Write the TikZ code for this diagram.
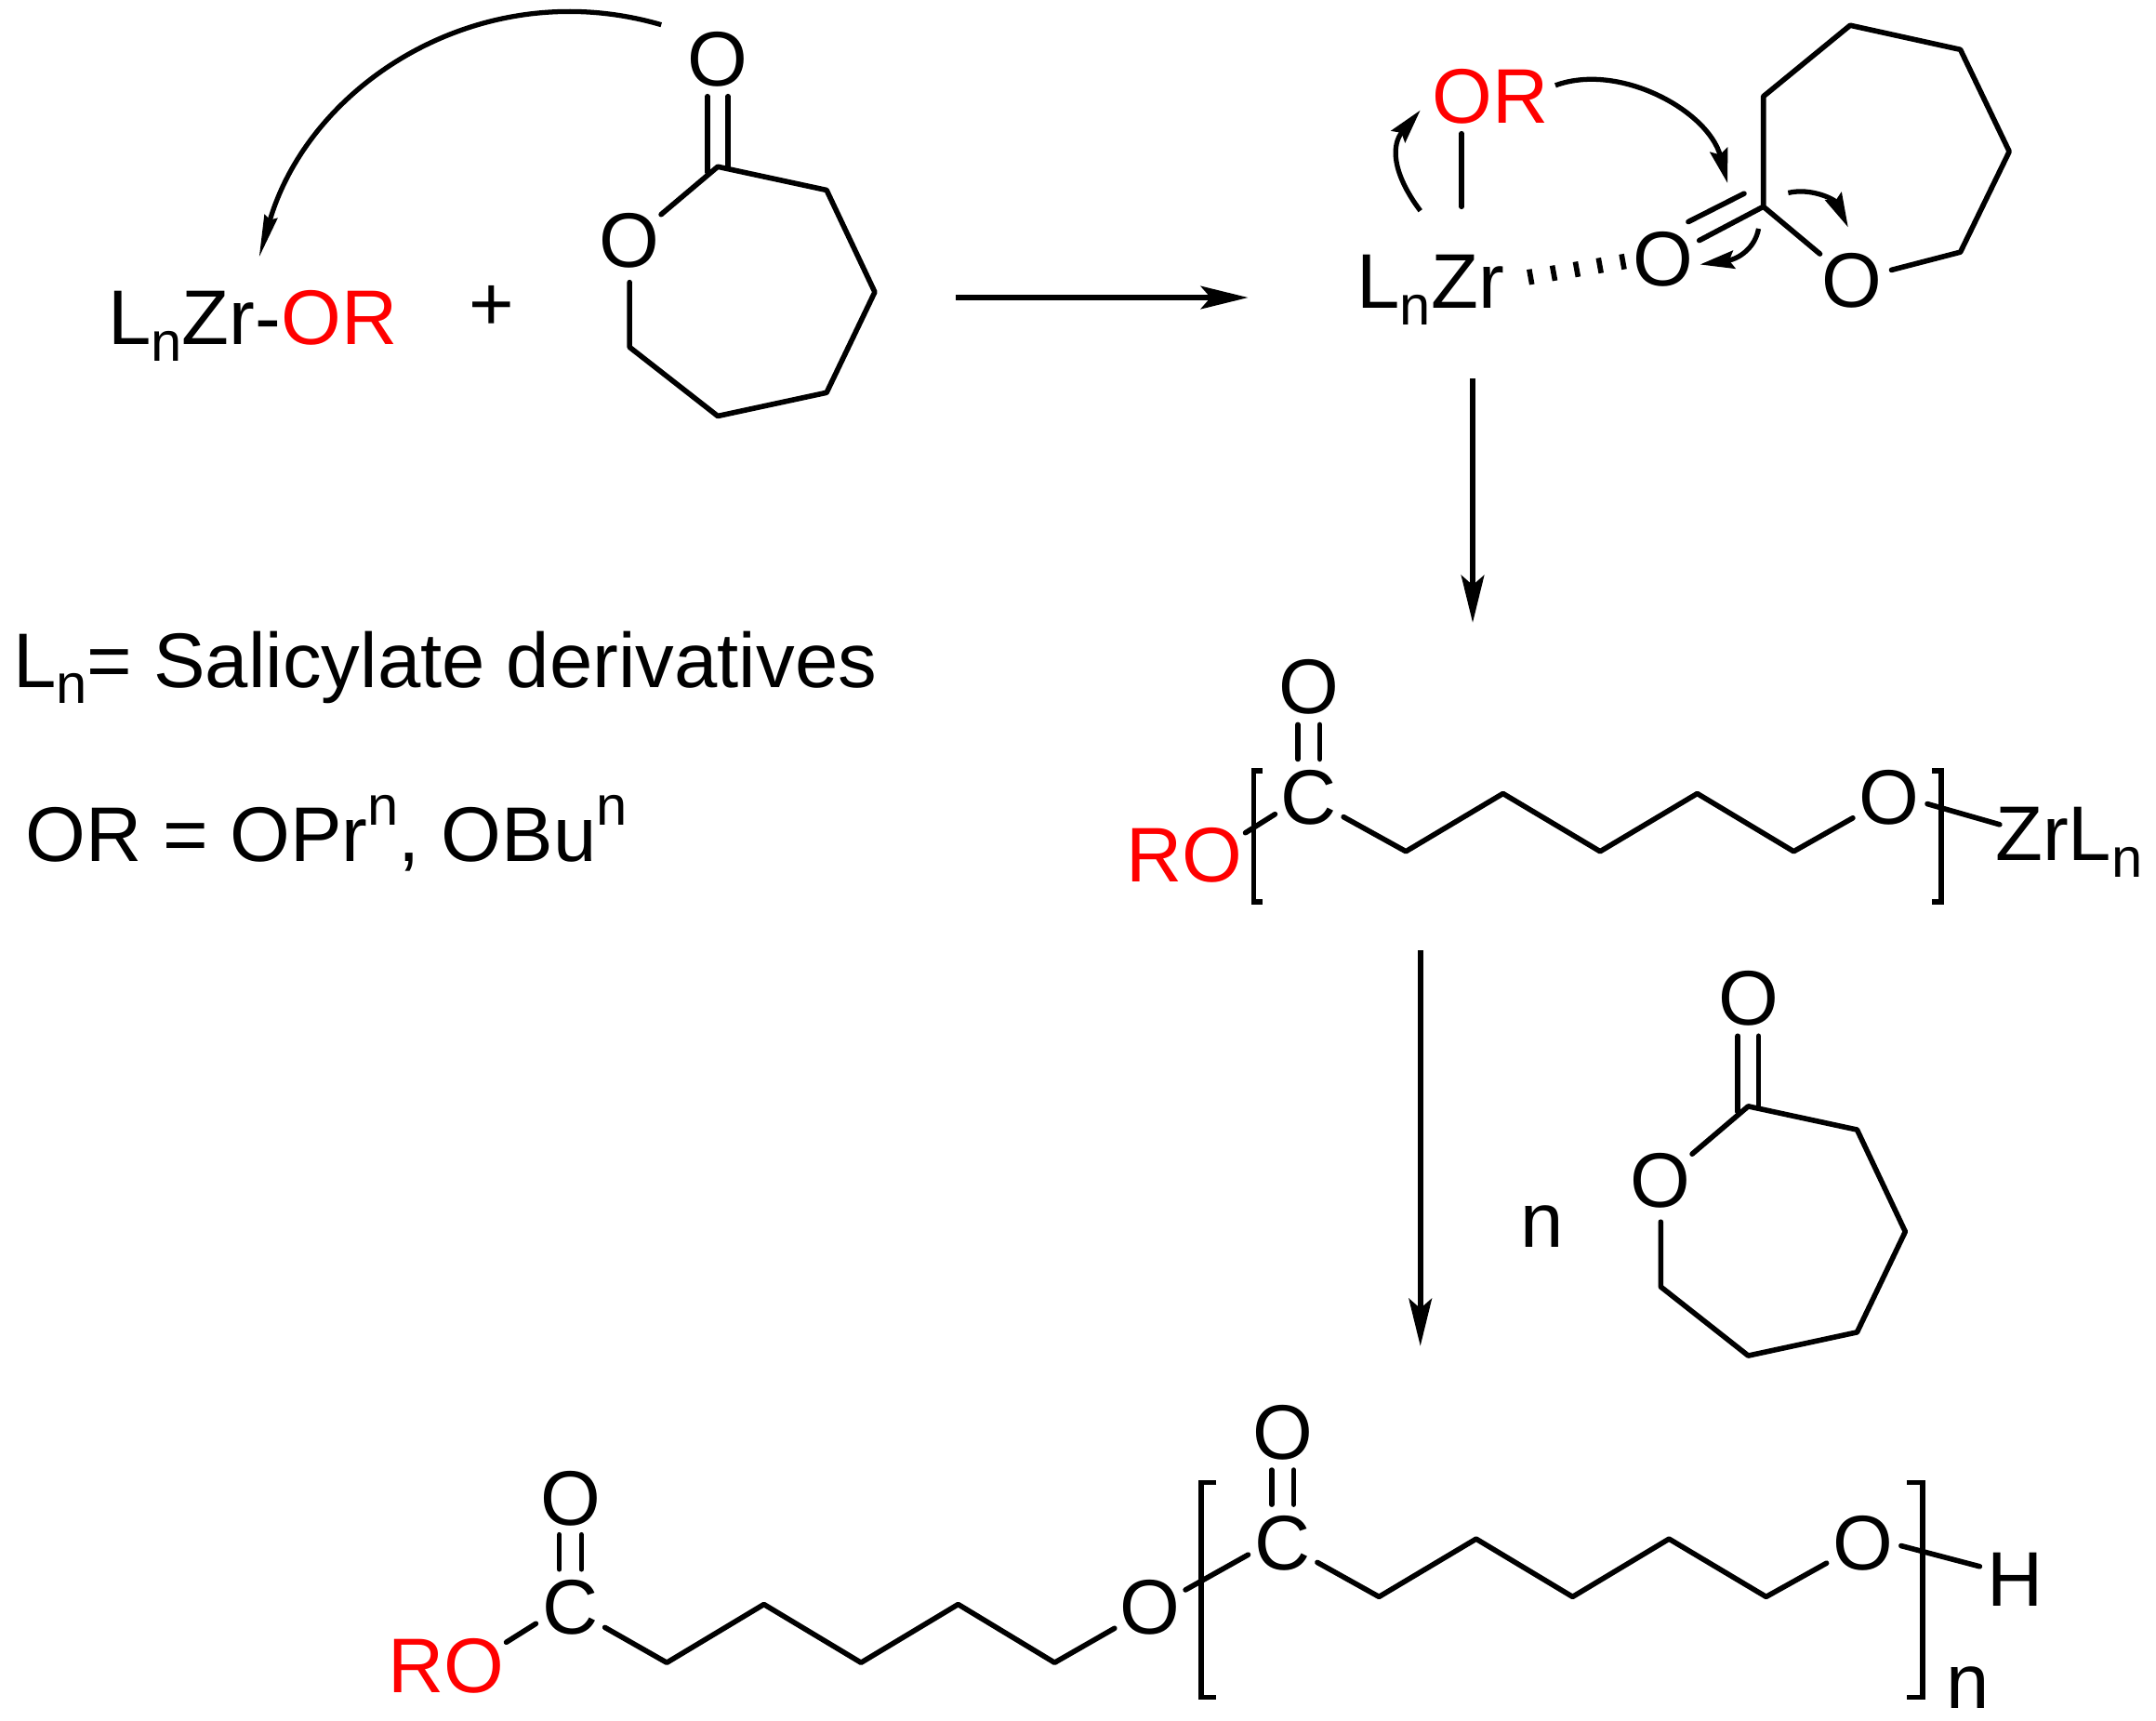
\documentclass[tikz,border=0pt]{standalone}
\usepackage{fontspec}
\setmainfont{Liberation Sans}
\usepackage{xcolor}
\usetikzlibrary{calc,arrows.meta}
\definecolor{orred}{HTML}{FF0000}
\newcommand{\atomfont}{\fontsize{23.7}{27}\selectfont}
\newcommand{\subn}{\raisebox{-5pt}{\fontsize{17}{18}\selectfont n}}
\newcommand{\supn}{\raisebox{11pt}{\fontsize{17}{18}\selectfont n}}
\tikzset{
  bond/.style={draw=black, line width=1.6pt, line cap=round, line join=round},
  brk/.style={draw=black, line width=1.6pt, line join=miter},
  hash/.style={draw=black, line width=1.6pt},
  rxn/.style={draw=black, line width=1.6pt, -{Stealth[length=14.5pt,width=7pt,inset=3pt]}},
  curl/.style={draw=black, line width=1.5pt, -{Stealth[length=10.5pt,width=5.5pt,inset=1.5pt]}},
  longcurl/.style={draw=black, line width=1.5pt, -{Stealth[length=13pt,width=4pt,inset=1pt]}},
  atom/.style={circle, inner sep=0pt, font=\atomfont},
  atomr/.style={atom, text=orred},
  lab/.style={anchor=base west, inner sep=0pt, font=\atomfont},
  labr/.style={lab, text=orred}
}
\begin{document}
\begin{tikzpicture}[x=0.014818cm,y=-0.014818cm]
  \useasboundingbox (0,0) rectangle (1565,1249);

  % first reactants
  \node[lab] (zrone) at (78,250) {L\subn Zr-\textcolor{orred}{OR}};
  \node[lab] (plus) at (340,240) {+};
  \node[atom] (Oa) at (521,43) {O};
  \node[atom] (Ob) at (457,175) {O};
  \coordinate (a1) at (521,121);
  \coordinate (a2) at (600,138);
  \coordinate (a3) at (635,212);
  \coordinate (a4) at (600,285);
  \coordinate (a5) at (521,302);
  \coordinate (a6) at (457,252);
  \draw[bond] (Ob) -- (a1) -- (a2) -- (a3) -- (a4) -- (a5) -- (a6) -- (Ob);
  \draw[bond] ($(a1)+(-7.5,4)$) -- ($(a1)+(-7.5,-51)$);
  \draw[bond] ($(a1)+(7.5,0)$) -- ($(a1)+(7.5,-51)$);
  \coordinate (ca1) at (480,18);
  \coordinate (ca2) at (188,187);
  \draw[longcurl] (ca1) .. controls (350,-20) and (225,60) .. (ca2);
  \coordinate (ra1) at (694,216);
  \coordinate (ra2) at (906,216);
  \draw[rxn] (ra1) -- (ra2);

  % coordinated lactone
  \node[labr] (ORm) at (1039,89.5) {OR};
  \node[lab] (zrtwo) at (984.5,224) {L\subn Zr};
  \coordinate (zb1) at (1061,97);
  \coordinate (zb2) at (1061,150);
  \draw[bond] (zb1) -- (zb2);
  \node[atom] (Oc) at (1207,188.5) {O};
  \node[atom] (Od) at (1344,203.5) {O};
  \coordinate (c1) at (1280,150);
  \coordinate (c2) at (1280,70);
  \coordinate (c3) at (1343,18.4);
  \coordinate (c4) at (1423,36);
  \coordinate (c5) at (1458.5,110);
  \coordinate (c6) at (1423,183);
  \draw[bond] (Od) -- (c1) -- (c2) -- (c3) -- (c4) -- (c5) -- (c6) -- (Od);
  \draw[bond] (c1) -- (Oc);
  \draw[bond] ($(c1)+(-14,-9.5)$) -- ($(c1)+(-54.5,11)$);
  \coordinate (hs) at (1111,201);
  \coordinate (he) at (1178,190);
  \foreach \t in {0,0.25,0.5,0.75,1}
    \draw[hash] ($(hs)!\t!(he)+(-1,-5.5)$) -- ($(hs)!\t!(he)+(1,5.5)$);
  \coordinate (cb1) at (1031,153);
  \coordinate (cb2) at (1031,80);
  \draw[curl] (cb1) .. controls (1010,125) and (1010,105) .. (cb2);
  \coordinate (cc1) at (1129,62);
  \coordinate (cc2) at (1254,133);
  \draw[curl] (cc1) .. controls (1175,45) and (1240,80) .. (cc2);
  \coordinate (cd1) at (1276.5,166);
  \coordinate (cd2) at (1234,192);
  \draw[curl] (cd1) .. controls (1274,180) and (1262,188) .. (cd2);
  \coordinate (ce1) at (1298,140);
  \coordinate (ce2) at (1341.5,165);
  \draw[curl] (ce1) .. controls (1315,136) and (1332,145) .. (ce2);
  \coordinate (rb1) at (1069,275);
  \coordinate (rb2) at (1069,452);
  \draw[rxn] (rb1) -- (rb2);

  % legend
  \node[lab] (legone) at (9,499) {L\subn= Salicylate derivatives};
  \node[lab] (legtwo) at (18,625) {OR = OPr\supn, OBu\supn};

  % insertion product
  \node[atom] (Oe) at (950,498.5) {O};
  \node[atom] (Ce) at (950,579) {C};
  \node[atom] (Of) at (1371,579) {O};
  \node[labr] (ROa) at (817,640) {RO};
  \node[lab] (zrthree) at (1448,624.8) {ZrL\subn};
  \coordinate (e1) at (1020.5,618);
  \coordinate (e2) at (1091,576);
  \coordinate (e3) at (1161.5,618);
  \coordinate (e4) at (1232,576);
  \coordinate (e5) at (1302,618);
  \coordinate (eb1) at (904,604.5);
  \coordinate (eb2) at (925.5,591);
  \coordinate (eb3) at (1399,583.5);
  \coordinate (eb4) at (1451.5,598.5);
  \draw[bond] (Ce) -- (e1) -- (e2) -- (e3) -- (e4) -- (e5) -- (Of);
  \draw[bond] (eb1) -- (eb2);
  \draw[bond] (eb3) -- (eb4);
  \draw[bond] ($(Ce)+(-8,-53)$) -- ($(Ce)+(-8,-28)$);
  \draw[bond] ($(Ce)+(8,-53)$) -- ($(Ce)+(8,-28)$);
  \draw[brk] (916.5,559.5) -- (910,559.5) -- (910,654.5) -- (916.5,654.5);
  \draw[brk] (1402.5,559.5) -- (1409,559.5) -- (1409,654.5) -- (1402.5,654.5);
  \coordinate (rc1) at (1031,690);
  \coordinate (rc2) at (1031,977);
  \draw[rxn] (rc1) -- (rc2);

  % n lactone
  \node[lab] (ncount) at (1103,905) {n};
  \node[atom] (Og) at (1269,725) {O};
  \node[atom] (Oh) at (1205.5,857) {O};
  \coordinate (g1) at (1269,803);
  \coordinate (g2) at (1348,820);
  \coordinate (g3) at (1383,894);
  \coordinate (g4) at (1348,967);
  \coordinate (g5) at (1269,984);
  \coordinate (g6) at (1205.5,934);
  \draw[bond] (Oh) -- (g1) -- (g2) -- (g3) -- (g4) -- (g5) -- (g6) -- (Oh);
  \draw[bond] ($(g1)+(-7.5,4)$) -- ($(g1)+(-7.5,-51)$);
  \draw[bond] ($(g1)+(7.5,0)$) -- ($(g1)+(7.5,-51)$);

  % polymer
  \node[labr] (ROb) at (281,1228.5) {RO};
  \node[atom] (Oj) at (414,1087.5) {O};
  \node[atom] (Cj) at (414,1167) {C};
  \node[atom] (Ok) at (835,1167) {O};
  \coordinate (j1) at (484,1206.8);
  \coordinate (j2) at (554.5,1164.5);
  \coordinate (j3) at (625,1206.8);
  \coordinate (j4) at (695.5,1164.5);
  \coordinate (j5) at (765.5,1206.8);
  \coordinate (jb1) at (367.5,1192);
  \coordinate (jb2) at (389,1178.5);
  \draw[bond] (Cj) -- (j1) -- (j2) -- (j3) -- (j4) -- (j5) -- (Ok);
  \draw[bond] (jb1) -- (jb2);
  \draw[bond] ($(Cj)+(-8,-53)$) -- ($(Cj)+(-8,-28)$);
  \draw[bond] ($(Cj)+(8,-53)$) -- ($(Cj)+(8,-28)$);
  \node[atom] (Om) at (931,1040) {O};
  \node[atom] (Cm) at (931,1120) {C};
  \node[atom] (On) at (1352,1120) {O};
  \node[lab] (Hn) at (1442,1165.5) {H};
  \node[lab] (nsub) at (1412,1240) {n};
  \coordinate (m1) at (1001,1159);
  \coordinate (m2) at (1071.5,1117);
  \coordinate (m3) at (1141.5,1159);
  \coordinate (m4) at (1211.5,1117);
  \coordinate (m5) at (1282,1159);
  \coordinate (mb1) at (860.5,1154);
  \coordinate (mb2) at (906,1128.5);
  \coordinate (mb3) at (1380,1122);
  \coordinate (mb4) at (1437,1137);
  \draw[bond] (Cm) -- (m1) -- (m2) -- (m3) -- (m4) -- (m5) -- (On);
  \draw[bond] (mb1) -- (mb2);
  \draw[bond] (mb3) -- (mb4);
  \draw[bond] ($(Cm)+(-8,-53)$) -- ($(Cm)+(-8,-28)$);
  \draw[bond] ($(Cm)+(8,-53)$) -- ($(Cm)+(8,-28)$);
  \draw[brk] (883,1076) -- (872,1076) -- (872,1232) -- (883,1232);
  \draw[brk] (1384,1076) -- (1395.5,1076) -- (1395.5,1232) -- (1384,1232);
\end{tikzpicture}
\end{document}
